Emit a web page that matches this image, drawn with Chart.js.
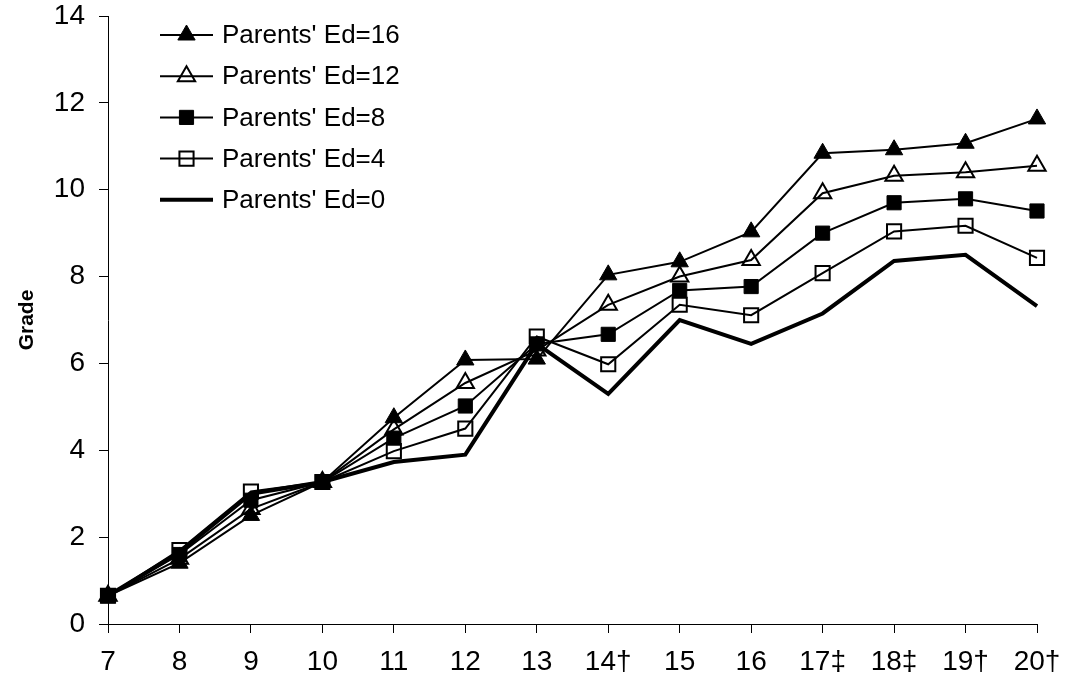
<!DOCTYPE html>
<html>
<head>
<meta charset="utf-8">
<script src="https://cdn.jsdelivr.net/npm/chart.js@4"></script>
<style>
  body { margin: 0; background: #fff; }
  canvas { display: block; }
</style>
</head>
<body>
<canvas id="gradeChart" width="1070" height="687"></canvas>
<script>
// ages (grade labels on the x axis)
const ages = ['7', '8', '9', '10', '11', '12', '13', '14†', '15', '16', '17‡', '18‡', '19†', '20†'];

// predicted grade for each level of parents' education
const ed16 = [0.65, 1.40, 2.50, 3.27, 4.75, 6.08, 6.10, 8.04, 8.34, 9.03, 10.84, 10.92, 11.07, 11.63];
const ed12 = [0.65, 1.50, 2.65, 3.27, 4.48, 5.55, 6.30, 7.35, 8.00, 8.38, 9.92, 10.32, 10.40, 10.55];
const ed8  = [0.65, 1.60, 2.85, 3.27, 4.28, 5.02, 6.45, 6.67, 7.68, 7.77, 9.00, 9.70, 9.79, 9.51];
const ed4  = [0.65, 1.70, 3.05, 3.27, 3.98, 4.50, 6.62, 5.98, 7.35, 7.11, 8.08, 9.04, 9.17, 8.43];
const ed0  = [0.65, 1.65, 3.00, 3.27, 3.73, 3.90, 6.45, 5.30, 7.00, 6.45, 7.15, 8.36, 8.50, 7.32];

const yTicks = [0, 2, 4, 6, 8, 10, 12, 14];

const FONT = "'Liberation Sans', Arial, sans-serif";

function series(label, data, style, filled, width) {
    return {
        label: label,
        data: data,
        borderColor: '#000',
        borderWidth: width,
        tension: 0,
        fill: false,
        pointStyle: style,
        pointRadius: style ? 10 : 0,
        pointHoverRadius: style ? 10 : 0,
        pointBackgroundColor: filled ? '#000' : 'rgba(0,0,0,0)',
        pointBorderColor: '#000',
        pointBorderWidth: filled ? 1 : 2
    };
}

// legend drawn inside the plot, top left
const innerLegend = {
    id: 'innerLegend',
    afterDraw(chart) {
        const ctx = chart.ctx;
        ctx.save();
        ctx.font = '26px ' + FONT;
        ctx.textBaseline = 'middle';
        ctx.fillStyle = '#000';
        chart.data.datasets.forEach((ds, i) => {
            const y = 35 + i * 41.2;
            ctx.beginPath();
            ctx.strokeStyle = '#000';
            ctx.lineWidth = ds.borderWidth;
            ctx.moveTo(160, y);
            ctx.lineTo(213, y);
            ctx.stroke();
            if (ds.pointRadius > 0) {
                ctx.fillStyle = ds.pointBackgroundColor;
                ctx.lineWidth = ds.pointBorderWidth;
                Chart.helpers.drawPoint(ctx, {
                    pointStyle: ds.pointStyle,
                    radius: ds.pointRadius,
                    rotation: 0,
                    borderWidth: ds.pointBorderWidth
                }, 186.5, y);
            }
            ctx.fillStyle = '#000';
            ctx.fillText(ds.label, 222, y + 1);
        });
        ctx.restore();
    }
};

function noEdgePadding(scale) {
    scale.paddingTop = 0;
    scale.paddingBottom = 0;
    scale.paddingLeft = 0;
    scale.paddingRight = 0;
}

new Chart(document.getElementById('gradeChart'), {
    type: 'line',
    data: {
        labels: ages,
        datasets: [
            series("Parents' Ed=16", ed16, 'triangle', true, 2),
            series("Parents' Ed=12", ed12, 'triangle', false, 2),
            series("Parents' Ed=8", ed8, 'rect', true, 2),
            series("Parents' Ed=4", ed4, 'rect', false, 2),
            series("Parents' Ed=0", ed0, false, false, 4)
        ]
    },
    options: {
        responsive: false,
        animation: false,
        layout: { padding: { left: 0, right: 33, top: 16, bottom: 0 } },
        plugins: {
            legend: { display: false },
            tooltip: { enabled: false }
        },
        scales: {
            x: {
                offset: false,
                grid: { drawOnChartArea: false, drawTicks: true, tickLength: 9, color: '#000', lineWidth: 1 },
                border: { display: true, color: '#000', width: 1 },
                ticks: { color: '#000', font: { family: FONT, size: 28 }, padding: 12, maxRotation: 0, autoSkip: false },
                afterFit(scale) { scale.height = 63; noEdgePadding(scale); }
            },
            y: {
                min: 0,
                max: 14,
                afterBuildTicks(scale) { scale.ticks = yTicks.map(v => ({ value: v })); },
                grid: { drawOnChartArea: false, drawTicks: true, tickLength: 9, color: '#000', lineWidth: 1 },
                border: { display: true, color: '#000', width: 1 },
                ticks: { color: '#000', font: { family: FONT, size: 28 }, padding: 14 },
                title: {
                    display: true,
                    text: 'Grade',
                    color: '#000',
                    font: { family: FONT, size: 21, weight: 'bold' },
                    padding: { top: 15, bottom: 0 }
                },
                afterFit(scale) { scale.width = 108; noEdgePadding(scale); }
            }
        }
    },
    plugins: [innerLegend]
});
</script>
</body>
</html>
